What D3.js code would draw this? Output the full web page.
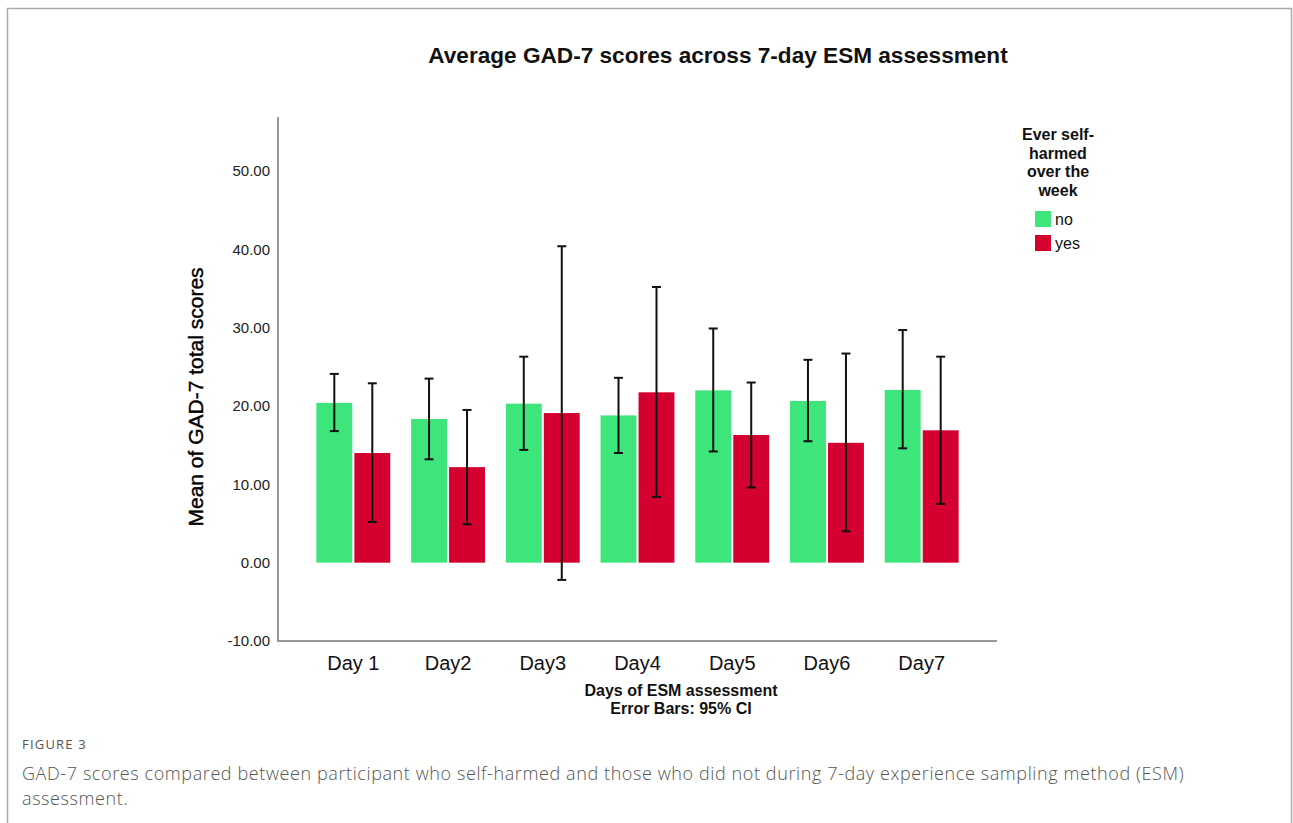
<!DOCTYPE html>
<html>
<head>
<meta charset="utf-8">
<script src="https://cdn.jsdelivr.net/npm/d3@7"></script>
<style>
body { margin: 0; background: #fff; }
svg { display: block; }
</style>
</head>
<body>
<svg class="theSvg" width="1293" height="823"></svg>
<script>
// values
var days = ["Day 1", "Day2", "Day3", "Day4", "Day5", "Day6", "Day7"];
var groups = ["no", "yes"];
var meanNo  = [20.4, 18.35, 20.3, 18.8, 22.0, 20.65, 22.05];
var lowNo   = [16.8, 13.2, 14.4, 14.0, 14.2, 15.5, 14.6];
var highNo  = [24.1, 23.5, 26.3, 23.6, 29.9, 25.9, 29.7];
var meanYes = [14.0, 12.2, 19.1, 21.75, 16.3, 15.3, 16.9];
var lowYes  = [5.2, 4.9, -2.2, 8.4, 9.6, 4.0, 7.5];
var highYes = [22.9, 19.5, 40.4, 35.2, 23.0, 26.7, 26.3];
var yTicks = [-10, 0, 10, 20, 30, 40, 50];
var colors = {"no": "#3de57b", "yes": "#d4002f"};

var rows = [];
days.forEach(function(d, i){
	rows.push({day: d, grp: "no", mean: meanNo[i], lo: lowNo[i], hi: highNo[i]});
	rows.push({day: d, grp: "yes", mean: meanYes[i], lo: lowYes[i], hi: highYes[i]});
});

var svg = d3.select(".theSvg");
var font = "'Liberation Sans', Arial, sans-serif";

// outer frame of the figure
svg.append("path")
	.attr("d", "M7.5 823 L7.5 8.5 L1291.5 8.5 L1291.5 823")
	.attr("fill", "none")
	.attr("stroke", "#aaa")
	.attr("stroke-width", 1.5);

var plotLeft = 278, plotRight = 997, plotTop = 117, plotBottom = 641;

var y = d3.scaleLinear().domain([-10, 56.9]).range([plotBottom, plotTop]);

var x0 = d3.scaleBand().domain(days).range([plotLeft, plotRight])
	.paddingInner(0.22).paddingOuter(0.405);

var x1 = d3.scaleBand().domain(groups).range([0, x0.bandwidth()]).paddingInner(0.055);

// title
svg.append("text")
	.attr("x", 718).attr("y", 63)
	.attr("text-anchor", "middle")
	.attr("font-family", font)
	.attr("font-weight", "bold")
	.attr("font-size", "22.6px")
	.attr("fill", "#111")
	.text("Average GAD-7 scores across 7-day ESM assessment");

// bars
svg.append("g").selectAll("rect")
	.data(rows)
	.enter()
	.append("rect")
	.attr("x", function(d){ return x0(d.day) + x1(d.grp); })
	.attr("y", function(d){ return y(d.mean); })
	.attr("width", x1.bandwidth())
	.attr("height", function(d){ return y(0) - y(d.mean); })
	.attr("fill", function(d){ return colors[d.grp]; });

// error bars
var errs = svg.append("g").selectAll("g")
	.data(rows)
	.enter()
	.append("g")
	.attr("transform", function(d){ return "translate(" + (x0(d.day) + x1(d.grp) + x1.bandwidth()/2) + ",0)"; });

errs.append("line")
	.attr("x1", 0).attr("x2", 0)
	.attr("y1", function(d){ return y(d.lo); })
	.attr("y2", function(d){ return y(d.hi); })
	.attr("stroke", "#111").attr("stroke-width", 2);

errs.append("line")
	.attr("x1", -4.5).attr("x2", 4.5)
	.attr("y1", function(d){ return y(d.hi); })
	.attr("y2", function(d){ return y(d.hi); })
	.attr("stroke", "#111").attr("stroke-width", 2);

errs.append("line")
	.attr("x1", -4.5).attr("x2", 4.5)
	.attr("y1", function(d){ return y(d.lo); })
	.attr("y2", function(d){ return y(d.lo); })
	.attr("stroke", "#111").attr("stroke-width", 2);

// axes
var yAxis = svg.append("g")
	.attr("transform", "translate(" + plotLeft + ",0)")
	.call(d3.axisLeft(y).tickValues(yTicks)
		.tickFormat(function(d){ return d3.format(".2f")(d).replace("\u2212", "-"); })
		.tickSize(0).tickPadding(8));
yAxis.select(".domain").remove();
yAxis.selectAll("text")
	.attr("font-family", font)
	.attr("font-size", "15px")
	.attr("fill", "#222");

var xAxis = svg.append("g")
	.attr("transform", "translate(0," + plotBottom + ")")
	.call(d3.axisBottom(x0).tickSize(0).tickPadding(15));
xAxis.select(".domain").remove();
xAxis.selectAll("text")
	.attr("font-family", font)
	.attr("font-size", "20px")
	.attr("fill", "#111");

svg.append("path")
	.attr("d", "M" + plotLeft + " " + plotTop + " L" + plotLeft + " " + plotBottom + " L" + plotRight + " " + plotBottom)
	.attr("fill", "none")
	.attr("stroke", "#777")
	.attr("stroke-width", 1.5);

// axis titles
svg.append("text")
	.attr("transform", "translate(203,397) rotate(-90)")
	.attr("text-anchor", "middle")
	.attr("font-family", font)
	.attr("font-size", "21px")
	.attr("fill", "#000")
	.attr("stroke", "#000")
	.attr("stroke-width", 0.4)
	.text("Mean of GAD-7 total scores");

svg.append("text")
	.attr("x", 681).attr("y", 696)
	.attr("text-anchor", "middle")
	.attr("font-family", font)
	.attr("font-weight", "bold")
	.attr("font-size", "16px")
	.attr("fill", "#111")
	.text("Days of ESM assessment");

svg.append("text")
	.attr("x", 681).attr("y", 714)
	.attr("text-anchor", "middle")
	.attr("font-family", font)
	.attr("font-weight", "bold")
	.attr("font-size", "16px")
	.attr("fill", "#111")
	.text("Error Bars: 95% CI");

// legend
var legTitle = ["Ever self-", "harmed", "over the", "week"];
svg.append("g").selectAll("text")
	.data(legTitle)
	.enter()
	.append("text")
	.attr("x", 1058)
	.attr("y", function(d, i){ return 140 + i * 18.7; })
	.attr("text-anchor", "middle")
	.attr("font-family", font)
	.attr("font-weight", "bold")
	.attr("font-size", "16px")
	.attr("fill", "#111")
	.text(function(d){ return d; });

var leg = svg.append("g").selectAll("g")
	.data(groups)
	.enter()
	.append("g")
	.attr("transform", function(d, i){ return "translate(1035," + (211 + i * 24) + ")"; });

leg.append("rect")
	.attr("width", 16).attr("height", 16)
	.attr("fill", function(d){ return colors[d]; });

leg.append("text")
	.attr("x", 20).attr("y", 14)
	.attr("font-family", font)
	.attr("font-size", "16px")
	.attr("fill", "#111")
	.text(function(d){ return d; });

// caption
svg.append("text")
	.attr("x", 22).attr("y", 749)
	.attr("font-family", "'Open Sans', sans-serif")
	.attr("font-size", "13px")
	.attr("letter-spacing", "1.2px")
	.attr("fill", "#555")
	.text("FIGURE 3");

var capLines = ["GAD-7 scores compared between participant who self-harmed and those who did not during 7-day experience sampling method (ESM)", "assessment."];
svg.append("g").selectAll("text")
	.data(capLines)
	.enter()
	.append("text")
	.attr("x", 22)
	.attr("y", function(d, i){ return 780 + i * 25; })
	.attr("font-family", "'Open Sans', sans-serif")
	.attr("font-size", "18px")
	.attr("letter-spacing", "0.6px")
	.attr("font-weight", 300)
	.attr("fill", "#555")
	.text(function(d){ return d; });
</script>
</body>
</html>
